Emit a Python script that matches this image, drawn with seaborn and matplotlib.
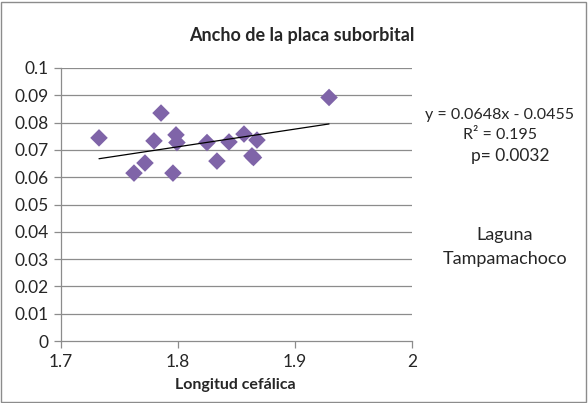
import matplotlib
matplotlib.use("Agg")
import matplotlib.pyplot as plt
import seaborn as sns
import numpy as np
import pandas as pd

# Longitud cefálica vs ancho de la placa suborbital (Laguna Tampamachoco)
longitud = [1.7325, 1.7624, 1.7718, 1.7795, 1.7855, 1.7957, 1.7983, 1.7991,
            1.8248, 1.8333, 1.8436, 1.8564, 1.8632, 1.8645, 1.8675, 1.9291]
ancho = [0.0744, 0.0615, 0.0652, 0.0733, 0.0835, 0.0615, 0.0755, 0.0727,
         0.0727, 0.0659, 0.0729, 0.0758, 0.0678, 0.0672, 0.0736, 0.0892]

slope = 0.0648
intercept = -0.0455
r2 = 0.195
p_value = 0.0032

x_ticks = [1.7, 1.8, 1.9, 2.0]
x_ticklabels = ["1.7", "1.8", "1.9", "2"]
y_ticks = [0, 0.01, 0.02, 0.03, 0.04, 0.05, 0.06, 0.07, 0.08, 0.09, 0.1]
y_ticklabels = ["0", "0.01", "0.02", "0.03", "0.04", "0.05", "0.06", "0.07", "0.08", "0.09", "0.1"]

sns.set_style("white")
plt.rcParams["font.family"] = ["Lato", "DejaVu Sans"]

df = pd.DataFrame({"longitud": longitud, "ancho": ancho})
x_fit = np.array([min(longitud), max(longitud)])
fit = pd.DataFrame({"longitud": x_fit, "ancho": slope * x_fit + intercept})

fig = plt.figure(figsize=(5.88, 4.03), dpi=100)
ax = fig.add_axes([0.1037, 0.1538, 0.597, 0.6775])

for y in y_ticks[1:]:
    ax.axhline(y, color="#8c8c8c", lw=0.9, zorder=0)

sns.scatterplot(data=df, x="longitud", y="ancho", marker="D", s=80,
                color="#7f64a8", edgecolor="none", ax=ax, zorder=3)
sns.lineplot(data=fit, x="longitud", y="ancho", color="black", lw=0.9,
             ax=ax, zorder=4)

ax.set_xlim(1.7, 2.0)
ax.set_ylim(0, 0.1)
ax.set_xticks(x_ticks)
ax.set_xticklabels(x_ticklabels, fontsize=12.5)
ax.set_yticks(y_ticks)
ax.set_yticklabels(y_ticklabels, fontsize=12.5)
ax.tick_params(axis="both", direction="out", length=5, width=0.9,
               color="#8c8c8c", pad=4, left=True, bottom=True)
for side in ["top", "right"]:
    ax.spines[side].set_visible(False)
for side in ["left", "bottom"]:
    ax.spines[side].set_color("#8c8c8c")
    ax.spines[side].set_linewidth(0.9)

ax.set_xlabel("")
ax.set_ylabel("")
fig.text(0.40, 0.045, "Longitud cefálica", fontsize=11.5, fontweight="bold",
         ha="center", va="center")
fig.text(0.514, 0.913, "Ancho de la placa suborbital", fontsize=13, fontweight="bold",
         ha="center", va="center")

fig.text(0.850, 0.715, f"y = {slope}x - {abs(intercept)}", fontsize=11.5, ha="center", va="center")
fig.text(0.850, 0.665, f"R² = {r2}", fontsize=11.5, ha="center", va="center")
fig.text(0.867, 0.613, f"p= {p_value}", fontsize=12.5, ha="center", va="center")
fig.text(0.859, 0.417, "Laguna", fontsize=13, ha="center", va="center")
fig.text(0.859, 0.357, "Tampamachoco", fontsize=13, ha="center", va="center")

fig.add_artist(plt.Rectangle((0.002, 0.003), 0.995, 0.993, transform=fig.transFigure,
                             fill=False, edgecolor="#8c8c8c", lw=1))

fig.savefig("out.png", dpi=100)
